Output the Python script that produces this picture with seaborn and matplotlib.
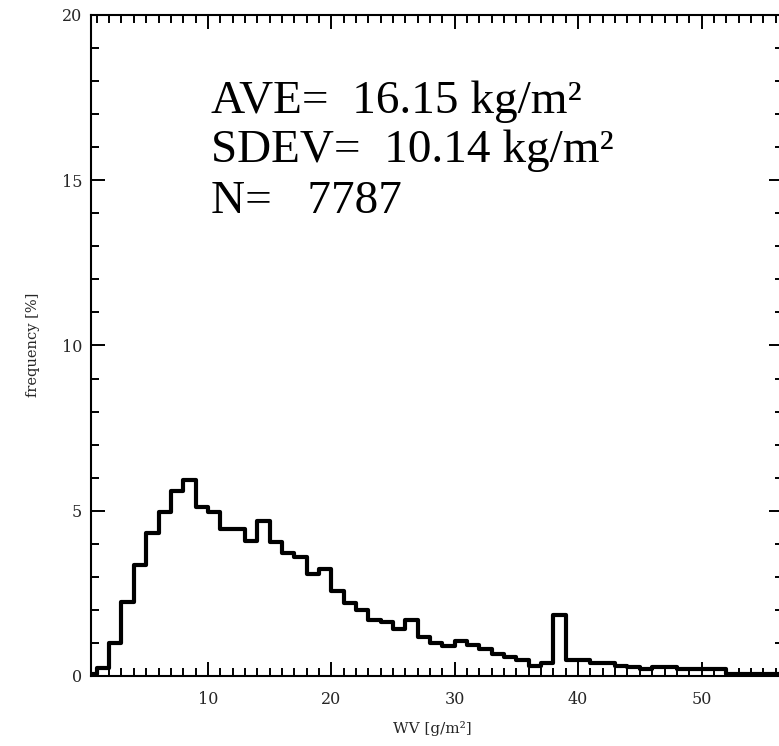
import numpy as np
import pandas as pd
import matplotlib
matplotlib.use("Agg")
import matplotlib.pyplot as plt
import seaborn as sns
from matplotlib.ticker import MultipleLocator

# ---- data ----
bin_edges = list(range(0, 58))  # 1 g/m^2 wide bins, 0..57
freq_pct = [
    0.05, 0.25, 1.00, 2.25, 3.36, 4.32, 4.97, 5.61, 5.93, 5.12,
    4.97, 4.44, 4.44, 4.09, 4.70, 4.06, 3.73, 3.61, 3.09, 3.23,
    2.58, 2.22, 2.00, 1.70, 1.64, 1.41, 1.69, 1.17, 0.99, 0.91,
    1.07, 0.94, 0.81, 0.67, 0.57, 0.47, 0.30, 0.40, 1.85, 0.48,
    0.47, 0.40, 0.38, 0.30, 0.28, 0.22, 0.28, 0.28, 0.22, 0.22,
    0.22, 0.22, 0.06, 0.06, 0.06, 0.06, 0.06,
]
stat_lines = ["AVE=  16.15 kg/m\u00b2", "SDEV=  10.14 kg/m\u00b2", "N=   7787"]
x_label = "WV [g/m\u00b2]"
y_label = "frequency [%]"
x_major = [10, 20, 30, 40, 50]
y_major = [0, 5, 10, 15, 20]

centers = [(a + b) / 2 for a, b in zip(bin_edges[:-1], bin_edges[1:])]
df = pd.DataFrame({"wv": centers, "freq": freq_pct})

sns.set_theme(style="ticks")
plt.rcParams["font.family"] = ["DejaVu Serif", "DejaVu Sans"]

W, H = 779, 746
fig = plt.figure(figsize=(W / 100, H / 100), dpi=100)
left, right, top, bottom = 90.5, 783, 15, 676
ax = fig.add_axes([left / W, (H - bottom) / H, (right - left) / W, (bottom - top) / H])

sns.histplot(data=df, x="wv", weights="freq", bins=bin_edges, element="step",
             fill=False, color="black", linewidth=3.0, ax=ax)

ax.set_xlim(0.49, 56.6)
ax.set_ylim(0, 20)
ax.set_xticks(x_major)
ax.set_yticks(y_major)
ax.xaxis.set_minor_locator(MultipleLocator(1))
ax.yaxis.set_minor_locator(MultipleLocator(1))

for s in ax.spines.values():
    s.set_visible(True)
    s.set_linewidth(1.5)
    s.set_color("black")

ax.tick_params(which="both", direction="in", top=True, right=True,
               color="black", width=1.4)
ax.tick_params(which="major", length=10)
ax.tick_params(which="minor", length=6)
ax.tick_params(axis="x", which="major", labelsize=11.5, pad=11)
ax.tick_params(axis="y", which="major", labelsize=11.5, pad=6)

ax.set_xlabel(x_label, fontsize=11)
ax.set_ylabel(y_label, fontsize=10.5)
ax.xaxis.set_label_coords((432 - left) / (right - left), (bottom - 721) / (bottom - top))
ax.yaxis.label.set_verticalalignment("center")
ax.yaxis.set_label_coords((33 - left) / (right - left), (bottom - 345) / (bottom - top))

baselines = [113, 161.7, 213]
for txt, yb in zip(stat_lines, baselines):
    ax.text((211 - left) / (right - left), (bottom - yb) / (bottom - top), txt,
            transform=ax.transAxes, ha="left", va="baseline",
            fontsize=34, family=["Liberation Serif", "DejaVu Serif"], color="black")

fig.savefig("out.png", dpi=100, facecolor="white")
